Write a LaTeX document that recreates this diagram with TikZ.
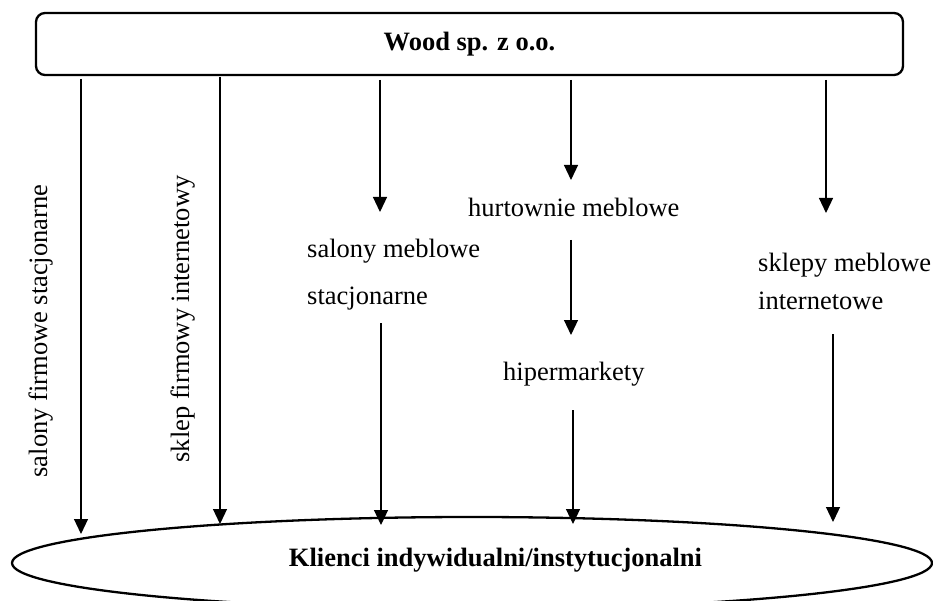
\documentclass[tikz,border=0pt]{standalone}
\usepackage{fontspec}
\setmainfont{Liberation Serif}
\usetikzlibrary{arrows.meta,shapes.geometric}
\tikzset{
  lbl/.style={inner sep=0pt, font=\fontsize{26.5}{32}\selectfont},
  blbl/.style={inner sep=0pt, font=\fontsize{26.5}{32}\selectfont\bfseries},
  arr/.style={line width=1.2pt, -{Triangle[width=14pt,length=15pt]}},
  frame/.style={draw, line width=2.3pt}
}
\begin{document}
\begin{tikzpicture}[x=1pt,y=-1pt]
\useasboundingbox (0,0) rectangle (933,601);
\begin{scope}
\clip (0,0) rectangle (933,601);
% top box
\node[frame, rounded corners=9pt, minimum width=867pt, minimum height=62pt, inner sep=0pt] (wood) at (469.5,44) {};
\node[blbl, anchor=base] (woodt) at (469.5,51) {Wood sp. z o.o.};
% bottom ellipse
\node[frame, ellipse, minimum width=920pt, minimum height=92pt, inner sep=0pt] (klienci) at (472,563) {};
\node[blbl, anchor=base] (klientt) at (495.5,566) {Klienci indywidualni/instytucjonalni};
\end{scope}
% vertical labels
\node[lbl, rotate=90, anchor=base] (v1) at (47,331) {salony firmowe stacjonarne};
\node[lbl, rotate=90, anchor=base] (v2) at (189,319) {sklep firmowy internetowy};
% horizontal labels
\node[lbl, anchor=base west] (sm1) at (307,258) {salony meblowe};
\node[lbl, anchor=base west] (sm2) at (307,304) {stacjonarne};
\node[lbl, anchor=base west] (hm) at (468,217) {hurtownie meblowe};
\node[lbl, anchor=base west] (hp) at (503,380) {hipermarkety};
\node[lbl, anchor=base west] (sk1) at (758,272) {sklepy meblowe};
\node[lbl, anchor=base west] (sk2) at (758,309) {internetowe};
% arrow end points
\coordinate (a1s) at (81,79);   \coordinate (a1e) at (81,534);
\coordinate (a2s) at (220,77);  \coordinate (a2e) at (220,524);
\coordinate (a3s) at (380,80);  \coordinate (a3e) at (380,212);
\coordinate (a3t) at (381,323); \coordinate (a3b) at (381,525);
\coordinate (a4s) at (571,80);  \coordinate (a4e) at (571,180);
\coordinate (a4t) at (571,240); \coordinate (a4m) at (571,335);
\coordinate (a4u) at (573,410); \coordinate (a4b) at (573,524);
\coordinate (a5s) at (826,80);  \coordinate (a5e) at (826,213);
\coordinate (a5t) at (833,334); \coordinate (a5b) at (833,522);
% arrows
\draw[arr] (a1s) -- (a1e);
\draw[arr] (a2s) -- (a2e);
\draw[arr] (a3s) -- (a3e);
\draw[arr] (a3t) -- (a3b);
\draw[arr] (a4s) -- (a4e);
\draw[arr] (a4t) -- (a4m);
\draw[arr] (a4u) -- (a4b);
\draw[arr] (a5s) -- (a5e);
\draw[arr] (a5t) -- (a5b);
\end{tikzpicture}
\end{document}
